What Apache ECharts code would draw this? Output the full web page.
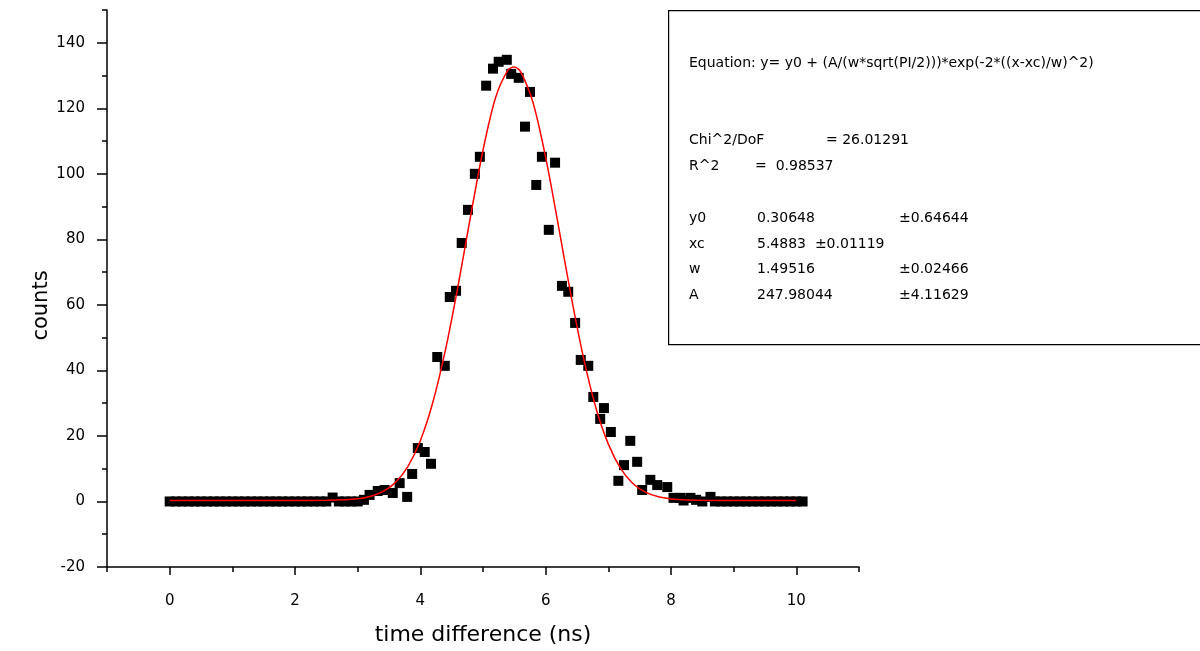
<!DOCTYPE html>
<html>
<head>
<meta charset="utf-8">
<script src="https://cdn.jsdelivr.net/npm/echarts@6/dist/echarts.min.js"></script>
<style>html,body{margin:0;padding:0;background:#fff;}#main{width:1200px;height:651px;}</style>
</head>
<body>
<div id="main"></div>
<script>
// ---- data ----
// baseline bins (left tail)
const leftTailX = [0,0.1,0.2,0.3,0.4,0.5,0.6,0.7,0.8,0.9,1.0,1.1,1.2,1.3,1.4,1.5,1.6,1.7,1.8,1.9,2.0,2.1,2.2,2.3,2.4,2.5,2.6,2.7,2.8,2.9,3.0,3.1];
const leftTailY = [0,0,0,0,0,0,0,0,0,0,0,0,0,0,0,0,0,0,0,0,0,0,0,0,0,0,1.2,0,0,0,0,0.5];
// peak region
const peakX = [3.19,3.32,3.43,3.56,3.67,3.79,3.87,3.96,4.07,4.17,4.27,4.39,4.47,4.57,4.66,4.76,4.87,4.95,5.05,5.16,5.25,5.38,5.45,5.57,5.67,5.75,5.85,5.94,6.05,6.15,6.26,6.36,6.47,6.56,6.68,6.76,6.87,6.93,7.04,7.16,7.25,7.35,7.46,7.54,7.67,7.78,7.94,8.04,8.15,8.31,8.63];
const peakY = [2.0,3.2,3.5,2.6,5.6,1.4,8.4,16.3,15.1,11.5,44.1,41.4,62.4,64.3,78.9,89.0,100.0,105.2,126.9,132.1,134.2,134.8,130.5,129.3,114.4,125.0,96.6,105.2,82.9,103.4,65.8,64.0,54.5,43.2,41.4,31.9,25.2,28.5,21.2,6.3,11.1,18.5,12.1,3.5,6.6,5.0,4.4,1.1,1.1,1.1,1.4];
// baseline bins (right tail)
const rightTailX = [8.2,8.4,8.5,8.7,8.8,8.9,9.0,9.1,9.2,9.3,9.4,9.5,9.6,9.7,9.8,9.9,10.0,10.1];
const rightTailY = [0.3,0.5,0,0,0,0,0,0,0,0,0,0,0,0,0,0,0,0];
// fitted Gaussian curve
const fitX = [0,0.5,1,1.5,2,2.5,2.8,3.0,3.2,3.4,3.6,3.8,4.0,4.2,4.4,4.6,4.8,5.0,5.2,5.4,5.5,5.6,5.8,6.0,6.2,6.4,6.6,6.8,7.0,7.2,7.4,7.6,7.8,8.0,8.2,8.5,9,9.5,10];
const fitY = [0.31,0.31,0.31,0.31,0.31,0.35,0.52,0.83,1.53,2.99,5.76,10.66,18.56,30.3,46.2,65.6,86.9,107.2,123.2,131.7,132.6,131.2,121.6,105.0,84.5,63.3,44.2,28.7,17.5,9.95,5.35,2.77,1.42,0.78,0.49,0.35,0.31,0.31,0.31];
// tick labels
const xMajorTicks = [0,2,4,6,8,10];
const xMinorTicks = [-1,1,3,5,7,9,11];
const yMajorTicks = [-20,0,20,40,60,80,100,120,140];
const yMinorTicks = [-10,10,30,50,70,90,110,130,150];
// fit results text
const equationText = 'Equation: y= y0 + (A/(w*sqrt(PI/2)))*exp(-2*((x-xc)/w)^2)';
const statsRows = [
  ['Chi^2/DoF', '= 26.01291'],
  ['R^2', '=  0.98537']
];
const paramRows = [
  ['y0', '0.30648', '\u00b10.64644'],
  ['xc', '5.4883  \u00b10.01119', ''],
  ['w', '1.49516', '\u00b10.02466'],
  ['A', '247.98044', '\u00b14.11629']
];

const zip = (xs, ys) => xs.map((x, i) => [x, ys[i]]);
const scatterData = zip(leftTailX, leftTailY).concat(zip(peakX, peakY), zip(rightTailX, rightTailY));
const fitData = zip(fitX, fitY);

const font = '"DejaVu Sans", "Liberation Sans", Arial, sans-serif';
const lineStyle = { color: '#000', width: 1.5 };

const graphics = [];
graphics.push({ type: 'rect', left: 668, top: 10, z: 10,
  shape: { width: 540, height: 334 }, style: { fill: '#fff', stroke: '#000', lineWidth: 1.2 } });
const txt = (x, y, s) => graphics.push({ type: 'text', x: x, y: y, z: 11,
  style: { text: s, fill: '#000', font: '14px ' + font, textVerticalAlign: 'middle' } });
txt(689, 63, equationText);
txt(689, 140, statsRows[0][0]); txt(826, 140, statsRows[0][1]);
txt(689, 166, statsRows[1][0]); txt(755, 166, statsRows[1][1]);
const rowY = [218, 244, 269, 295];
paramRows.forEach((r, i) => { txt(689, rowY[i], r[0]); txt(757, rowY[i], r[1]); if (r[2]) txt(899, rowY[i], r[2]); });

const chart = echarts.init(document.getElementById('main'), null, { renderer: 'canvas' });
chart.setOption({
  animation: false,
  backgroundColor: '#fff',
  grid: { left: 107, right: 341, top: 10, bottom: 84, containLabel: false },
  xAxis: [{
    type: 'value', min: -1, max: 11, position: 'bottom',
    name: 'time difference (ns)', nameLocation: 'middle', nameGap: 57,
    nameTextStyle: { fontFamily: font, fontSize: 22, color: '#000' },
    axisLine: { onZero: false, lineStyle: lineStyle },
    axisTick: { show: true, inside: false, length: 8, lineStyle: lineStyle, customValues: xMajorTicks },
    axisLabel: { customValues: xMajorTicks, margin: 27, fontFamily: font, fontSize: 15, color: '#000' },
    splitLine: { show: false }
  }, {
    type: 'value', min: -1, max: 11, position: 'bottom', offset: 0,
    axisLine: { show: false, onZero: false },
    axisTick: { show: true, inside: false, length: 5, lineStyle: lineStyle, customValues: xMinorTicks },
    axisLabel: { show: false },
    splitLine: { show: false }
  }],
  yAxis: [{
    type: 'value', min: -20, max: 150, position: 'left',
    name: 'counts', nameLocation: 'middle', nameGap: 55, nameRotate: 90, nameMoveOverlap: false,
    nameTextStyle: { fontFamily: font, fontSize: 21, color: '#000', padding: [0, 34, 0, 0] },
    axisLine: { onZero: false, lineStyle: lineStyle },
    axisTick: { show: true, inside: false, length: 10, lineStyle: lineStyle, customValues: yMajorTicks },
    axisLabel: { customValues: yMajorTicks, margin: 22, fontFamily: font, fontSize: 15, color: '#000' },
    splitLine: { show: false }
  }, {
    type: 'value', min: -20, max: 150, position: 'left', offset: 0,
    axisLine: { show: false, onZero: false },
    axisTick: { show: true, inside: false, length: 5, lineStyle: lineStyle, customValues: yMinorTicks },
    axisLabel: { show: false },
    splitLine: { show: false }
  }],
  series: [{
    type: 'scatter', xAxisIndex: 0, yAxisIndex: 0,
    symbol: 'rect', symbolSize: 10,
    itemStyle: { color: '#000', opacity: 1 },
    data: scatterData, z: 2
  }, {
    type: 'line', xAxisIndex: 0, yAxisIndex: 0,
    data: fitData, smooth: 0.3, showSymbol: false, symbol: 'none',
    lineStyle: { color: '#ff0000', width: 1.5 }, z: 3
  }],
  graphic: graphics
});
</script>
</body>
</html>
